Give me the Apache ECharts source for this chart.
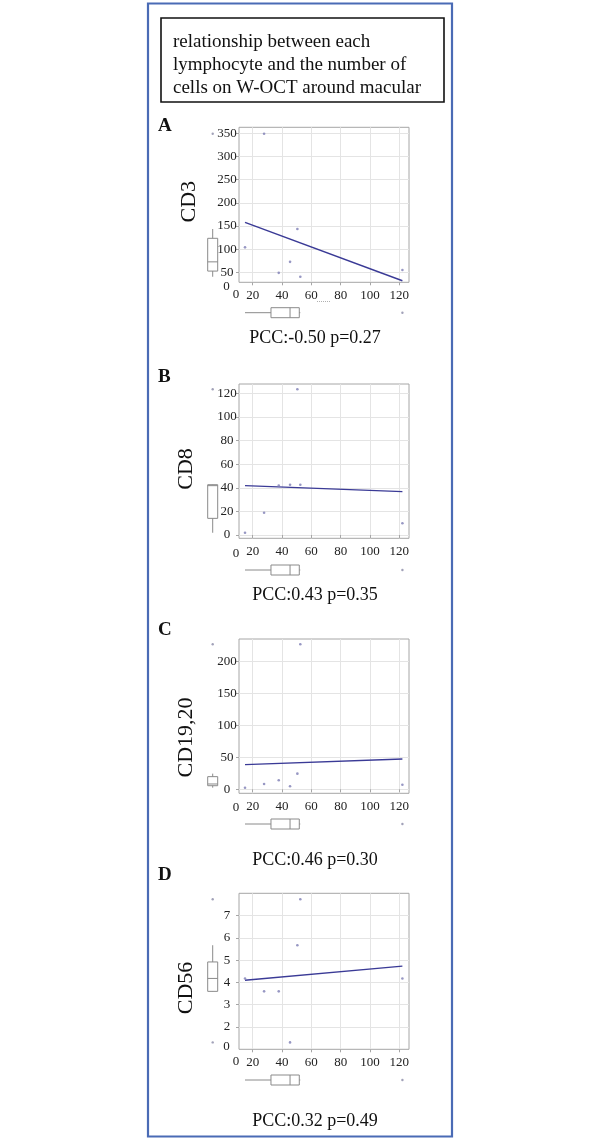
<!DOCTYPE html>
<html>
<head>
<meta charset="utf-8">
<script src="https://cdn.jsdelivr.net/npm/echarts@6/dist/echarts.min.js"></script>
<style>
html,body{margin:0;padding:0;background:#fff;}
#c{width:600px;height:1143px;}
</style>
</head>
<body>
<div id="c"></div>
<script>
// ---- data ----
const titleLines = ['relationship between each', 'lymphocyte and the number of', 'cells on W-OCT around macular'];
const panelLetters = ['A', 'B', 'C', 'D'];
const yTitles = ['CD3', 'CD8', 'CD19,20', 'CD56'];
const pccTexts = ['PCC:-0.50 p=0.27', 'PCC:0.43 p=0.35', 'PCC:0.46 p=0.30', 'PCC:0.32 p=0.49'];

// W-OCT cell counts (x, shared by all panels)
const xVals = [14.8, 27.8, 37.8, 45.5, 50.5, 52.5, 122.1];
const cd3 = [104, 349, 49, 72.7, 143.5, 40.6, 55];
const cd8 = [1.9, 18.9, 41.8, 42.6, 123.5, 42.6, 9.9];
const cd1920 = [2.5, 8.3, 14.1, 4.7, 24.5, 227.3, 7.2];
const cd56 = [4.18, 3.6, 3.6, 1.31, 5.67, 7.73, 4.18];

// fitted lines: [x1, y1, x2, y2]
const fitA = [14.8, 158, 122.1, 32];
const fitB = [14.8, 41.8, 122.1, 36.7];
const fitC = [14.8, 38.6, 122.1, 47.5];
const fitD = [14.8, 4.1, 122.1, 4.73];

// marginal box plots: [low whisker, Q1, median, Q3, high whisker]
const xBox = [14.8, 32.5, 45.5, 51.8, 52.5];
const xOutliers = [122.1];
const yBoxA = [40.6, 52.8, 72.7, 123.5, 143.5];
const yBoxB = [1.9, 14.1, 41.8, 42.6, 42.6];
const yBoxC = [2.5, 5.6, 8.3, 19.8, 24.5];
const yBoxD = [3.6, 3.6, 4.18, 4.92, 5.67];
const yOutA = [349];
const yOutB = [123.5];
const yOutC = [227.3];
const yOutD = [7.73, 1.31];

// axes
const xRange = [10.7, 126.6];
const xTicks = [20, 40, 60, 80, 100, 120];
const yRangeA = [28.6, 362.9];
const yRangeB = [-2.8, 127.9];
const yRangeC = [-6.3, 235.6];
const yRangeD = [1.0, 8.0];
const yTicksA = [50, 100, 150, 200, 250, 300, 350];
const yTicksB = [0, 20, 40, 60, 80, 100, 120];
const yTicksC = [0, 50, 100, 150, 200];
const yTicksD = [2, 3, 4, 5, 6, 7];
const cornerLabel = '0';

// ---- layout ----
const SERIF = '"Liberation Serif", "DejaVu Serif", serif';
const panels = [
  { y: cd3, fit: fitA, yBox: yBoxA, yOut: yOutA, yRange: yRangeA, yTicks: yTicksA, top: 127.3, h: 155, xMargTop: 302.7,
    letterY: 126, titleY: 201.7, titleX: 189, pccY: 338, xZeroY: 295, yZero: 286.7 },
  { y: cd8, fit: fitB, yBox: yBoxB, yOut: yOutB, yRange: yRangeB, yTicks: yTicksB, top: 384, h: 154.3, xMargTop: 560,
    letterY: 376.7, titleY: 469, titleX: 186, pccY: 595, xZeroY: 553.3, yZero: null },
  { y: cd1920, fit: fitC, yBox: yBoxC, yOut: yOutC, yRange: yRangeC, yTicks: yTicksC, top: 639, h: 154.3, xMargTop: 814,
    letterY: 629.5, titleY: 737.5, titleX: 186, pccY: 860, xZeroY: 807.3, yZero: null },
  { y: cd56, fit: fitD, yBox: yBoxD, yOut: yOutD, yRange: yRangeD, yTicks: yTicksD, top: 893.3, h: 156, xMargTop: 1070,
    letterY: 875, titleY: 988, titleX: 186, pccY: 1121.7, xZeroY: 1061.7, yZero: 1046.7 }
];
const PL = 239, PW = 170;
const BOXC = '#8a8a8a';
const PTC = '#7d7db4';
const LINEC = '#3a3a96';

const grid = [], xAxis = [], yAxis = [], series = [], graphic = [];

function vBox(params, api) {
  const c = [api.value(1), api.value(2), api.value(3), api.value(4), api.value(5)].map(v => api.coord([0, v]));
  const x = c[0][0], hw = 5;
  const st = { stroke: BOXC, fill: '#fff', lineWidth: 1 };
  return { type: 'group', children: [
    { type: 'line', shape: { x1: x, y1: c[0][1], x2: x, y2: c[4][1] }, style: { stroke: BOXC, lineWidth: 1 } },
    { type: 'rect', shape: { x: x - hw, y: c[3][1], width: 2 * hw, height: c[1][1] - c[3][1] }, style: st },
    { type: 'line', shape: { x1: x - hw, y1: c[2][1], x2: x + hw, y2: c[2][1] }, style: { stroke: BOXC, lineWidth: 1 } }
  ]};
}
function hBox(params, api) {
  const c = [api.value(0), api.value(1), api.value(2), api.value(3), api.value(4)].map(v => api.coord([v, 0]));
  const y = c[0][1], hh = 5;
  const st = { stroke: BOXC, fill: '#fff', lineWidth: 1 };
  return { type: 'group', children: [
    { type: 'line', shape: { x1: c[0][0], y1: y, x2: c[4][0], y2: y }, style: { stroke: BOXC, lineWidth: 1 } },
    { type: 'rect', shape: { x: c[1][0], y: y - hh, width: c[3][0] - c[1][0], height: 2 * hh }, style: st },
    { type: 'line', shape: { x1: c[2][0], y1: y - hh, x2: c[2][0], y2: y + hh }, style: { stroke: BOXC, lineWidth: 1 } }
  ]};
}

const axLabel = { fontFamily: SERIF, fontSize: 13, color: '#222' };

panels.forEach((p, i) => {
  const gMain = 3 * i, gY = 3 * i + 1, gX = 3 * i + 2;
  grid.push({ left: PL, top: p.top, width: PW, height: p.h, show: true, borderColor: '#a6a6a6', borderWidth: 1, backgroundColor: '#fff' });
  grid.push({ left: PL - 36.3, top: p.top, width: 20, height: p.h });
  grid.push({ left: PL, top: p.xMargTop, width: PW, height: 20 });

  xAxis.push({ gridIndex: gMain, type: 'value', min: xRange[0], max: xRange[1],
    axisLine: { show: false },
    axisTick: { show: true, length: 3, inside: false, lineStyle: { color: '#a6a6a6' }, customValues: xTicks },
    axisLabel: Object.assign({ margin: 7, customValues: xTicks }, axLabel),
    splitLine: { show: true, lineStyle: { color: '#e4e4e4', width: 1 } } });
  yAxis.push({ gridIndex: gMain, type: 'value', min: p.yRange[0], max: p.yRange[1],
    axisLine: { show: false },
    axisTick: { show: true, length: 3, lineStyle: { color: '#a6a6a6' }, customValues: p.yTicks },
    axisLabel: Object.assign({ margin: 12, align: 'center', customValues: p.yTicks }, axLabel),
    splitLine: { show: true, lineStyle: { color: '#e4e4e4', width: 1 } } });

  xAxis.push({ gridIndex: gY, type: 'category', data: ['box'], show: false });
  yAxis.push({ gridIndex: gY, type: 'value', min: p.yRange[0], max: p.yRange[1], show: false });
  xAxis.push({ gridIndex: gX, type: 'value', min: xRange[0], max: xRange[1], show: false });
  yAxis.push({ gridIndex: gX, type: 'category', data: ['box'], show: false });

  series.push({ type: 'line', xAxisIndex: gMain, yAxisIndex: gMain, data: [[p.fit[0], p.fit[1]], [p.fit[2], p.fit[3]]],
    symbol: 'none', lineStyle: { color: LINEC, width: 1.4 }, silent: true, z: 3 });
  series.push({ type: 'scatter', xAxisIndex: gMain, yAxisIndex: gMain, data: xVals.map((x, k) => [x, p.y[k]]),
    symbolSize: 2.6, itemStyle: { color: PTC }, z: 4 });
  series.push({ type: 'custom', xAxisIndex: gY, yAxisIndex: gY, renderItem: vBox, data: [[0].concat(p.yBox)], clip: false });
  series.push({ type: 'scatter', xAxisIndex: gY, yAxisIndex: gY, data: p.yOut.map(v => [0, v]), symbolSize: 2.4, itemStyle: { color: '#8a8aa6' } });
  series.push({ type: 'custom', xAxisIndex: gX, yAxisIndex: gX, renderItem: hBox, data: [xBox.concat([0])], clip: false });
  series.push({ type: 'scatter', xAxisIndex: gX, yAxisIndex: gX, data: xOutliers.map(v => [v, 0]), symbolSize: 2.4, itemStyle: { color: '#8a8aa6' } });

  graphic.push({ type: 'text', left: 158, top: p.letterY - 9, style: { text: panelLetters[i], font: 'bold 19px ' + SERIF, fill: '#111' } });
  graphic.push({ type: 'text', x: p.titleX, y: p.titleY, rotation: Math.PI / 2,
    style: { text: yTitles[i], font: '22px ' + SERIF, fill: '#111', align: 'center', verticalAlign: 'middle' } });
  graphic.push({ type: 'text', x: 315, y: p.pccY,
    style: { text: pccTexts[i], font: '18px ' + SERIF, fill: '#111', align: 'center', verticalAlign: 'middle' } });
  graphic.push({ type: 'text', x: 236, y: p.xZeroY,
    style: { text: cornerLabel, font: '13px ' + SERIF, fill: '#222', align: 'center', verticalAlign: 'middle' } });
  if (p.yZero !== null) {
    graphic.push({ type: 'text', x: 226.5, y: p.yZero,
      style: { text: cornerLabel, font: '13px ' + SERIF, fill: '#222', align: 'center', verticalAlign: 'middle' } });
  }
});

// frames
graphic.push({ type: 'rect', shape: { x: 148, y: 3.5, width: 304, height: 1133 }, style: { stroke: '#4a6bb5', lineWidth: 2.2, fill: null }, z: 10 });
graphic.push({ type: 'rect', shape: { x: 161, y: 18, width: 283, height: 84 }, style: { stroke: '#111', lineWidth: 1.6, fill: null } });
graphic.push({ type: 'text', left: 173, top: 31, style: { text: titleLines.join('\n'), font: '19px ' + SERIF, lineHeight: 23, fill: '#111' } });
// faint dotted mark under panel A x-axis
graphic.push({ type: 'line', shape: { x1: 317, y1: 301.5, x2: 331, y2: 301.5 }, style: { stroke: '#b0b0b0', lineWidth: 1, lineDash: [1, 1] } });

const chart = echarts.init(document.getElementById('c'), null, { renderer: 'canvas' });
chart.setOption({ animation: false, backgroundColor: '#fff', grid, xAxis, yAxis, series, graphic });
</script>
</body>
</html>
